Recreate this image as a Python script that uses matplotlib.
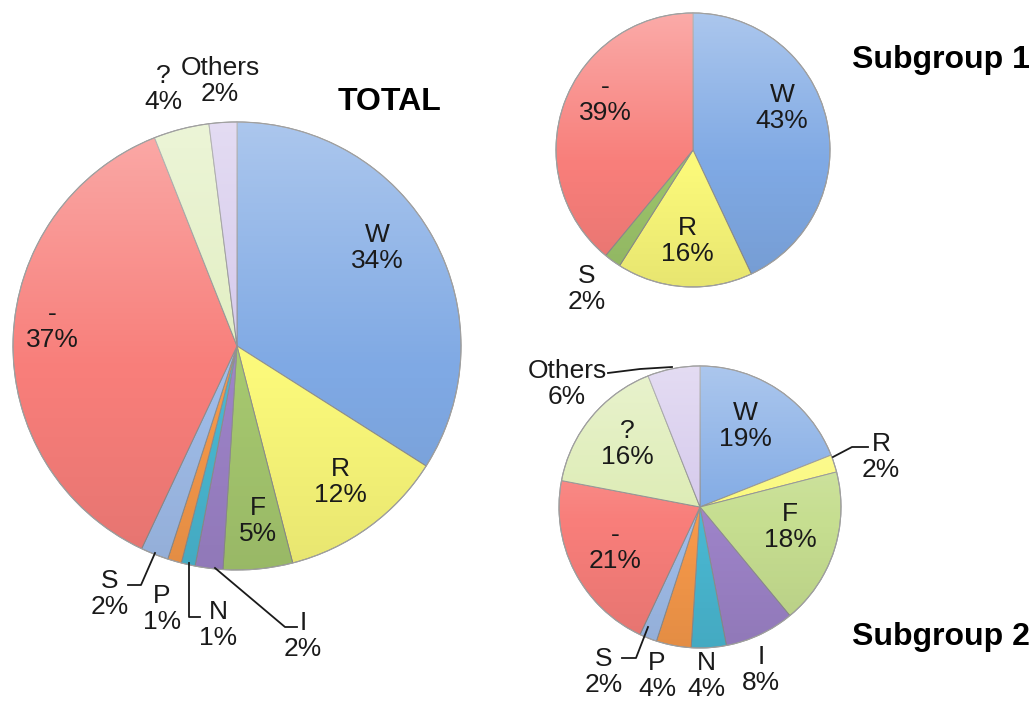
import numpy as np
import matplotlib
matplotlib.use("Agg")
from matplotlib import pyplot as plt
from matplotlib.patches import Circle

plt.rcParams['font.family'] = ['Liberation Sans', 'DejaVu Sans']

W_PX, H_PX = 1032, 703

# category names and shares (percent)
total_names = ['W', 'R', 'F', 'I', 'N', 'P', 'S', '-', '?', 'Others']
total_values = [34, 12, 5, 2, 1, 1, 2, 37, 4, 2]

sub1_names = ['W', 'R', 'S', '-']
sub1_values = [43, 16, 2, 39]

sub2_names = ['W', 'R', 'F', 'I', 'N', 'P', 'S', '-', '?', 'Others']
sub2_values = [19, 2, 18, 8, 4, 4, 2, 21, 16, 6]

colors = {
    'W': '#7fa9e4', 'R': '#fbf97a', 'F': '#a6c86f', 'I': '#9d83c8',
    'N': '#4ab8d2', 'P': '#f7994a', 'S': '#a0bdea', '-': '#f87e7a',
    '?': '#e2efc2', 'Others': '#d5c9ec',
}
sub1_colors = {'S': '#9cc46a'}
sub2_colors = {'F': '#c6de90', '?': '#ddecb4'}


def Y(y):
    return H_PX - y


fig = plt.figure(figsize=(W_PX / 100, H_PX / 100), dpi=100)
ax = fig.add_axes([0, 0, 1, 1])


def draw_pie(values, names, center, radius, override=None):
    override = override or {}
    cols = [override.get(n, colors[n]) for n in names]
    wedges, _ = ax.pie(values, colors=cols, startangle=90, counterclock=False,
                       center=(center[0], Y(center[1])), radius=radius,
                       wedgeprops=dict(edgecolor='#8f8f8f', linewidth=0.7))
    # highlight at the top fading into a light shadow at the bottom
    cx, cy = center[0], Y(center[1])
    t = np.linspace(0, 1, 256)[:, None] * np.ones((1, 2))
    shade = np.zeros((256, 2, 4))
    top = t < 0.55
    shade[..., :3] = np.where(top[..., None], 1.0, 0.0)
    shade[..., 3] = np.where(top, (0.55 - t) / 0.55 * 0.35, (t - 0.55) / 0.45 * 0.08)
    im = ax.imshow(shade, extent=(cx - radius, cx + radius, cy - radius, cy + radius),
                   origin='upper', aspect='auto', zorder=2, interpolation='bilinear')
    im.set_clip_path(Circle((cx, cy), radius, transform=ax.transData))
    ax.add_patch(Circle((cx, cy), radius, fill=False, edgecolor='#a0a0a0', lw=0.8, zorder=3))
    return wedges


def label(x, y, name, value, size=19):
    ax.text(x, Y(y), f"{name}\n{value}%", ha='center', va='center',
            fontsize=size, linespacing=1.12, color='#1a1a1a', zorder=5)


def leader(xs, ys):
    ax.plot(xs, [Y(v) for v in ys], color='#1a1a1a', lw=1.3, zorder=5)


draw_pie(total_values, total_names, (237, 346), 224)
draw_pie(sub1_values, sub1_names, (693, 150), 137, sub1_colors)
draw_pie(sub2_values, sub2_names, (700, 507), 141, sub2_colors)

tv = dict(zip(total_names, total_values))
s1 = dict(zip(sub1_names, sub1_values))
s2 = dict(zip(sub2_names, sub2_values))

# TOTAL
ax.text(390, Y(102), 'TOTAL', ha='center', va='center', fontsize=23,
        fontweight='bold', zorder=5)
label(377, 248, 'W', tv['W'])
label(52, 327, '-', tv['-'])
label(163, 89, '?', tv['?'])
label(220, 81, 'Others', tv['Others'])
label(340, 482, 'R', tv['R'])
label(258, 521, 'F', tv['F'])
label(110, 594, 'S', tv['S'])
label(162, 609, 'P', tv['P'])
label(218, 625, 'N', tv['N'])
label(303, 636, 'I', tv['I'])
leader([128, 141, 155], [585, 585, 553])
leader([189, 189, 200], [563, 617, 617])
leader([215, 285, 297], [568, 627, 627])

# Subgroup 1
ax.text(852, Y(60), 'Subgroup 1', ha='left', va='center', fontsize=23,
        fontweight='bold', zorder=5)
label(782, 108, 'W', s1['W'])
label(605, 100, '-', s1['-'])
label(687, 241, 'R', s1['R'])
label(587, 289, 'S', s1['S'])

# Subgroup 2
ax.text(852, Y(637), 'Subgroup 2', ha='left', va='center', fontsize=23,
        fontweight='bold', zorder=5)
label(567, 384, 'Others', s2['Others'])
label(627, 444, '?', s2['?'])
label(745, 426, 'W', s2['W'])
label(881, 457, 'R', s2['R'])
label(790, 527, 'F', s2['F'])
label(615, 548, '-', s2['-'])
label(604, 672, 'S', s2['S'])
label(657, 676, 'P', s2['P'])
label(706, 676, 'N', s2['N'])
label(761, 670, 'I', s2['I'])
leader([608, 640, 672], [373, 369, 367])
leader([833, 852, 868], [457, 447, 447])
leader([622, 636, 648], [658, 658, 627])

ax.set_xlim(0, W_PX)
ax.set_ylim(0, H_PX)
ax.set_aspect('auto')
ax.axis('off')

fig.savefig('out.png', dpi=100)
